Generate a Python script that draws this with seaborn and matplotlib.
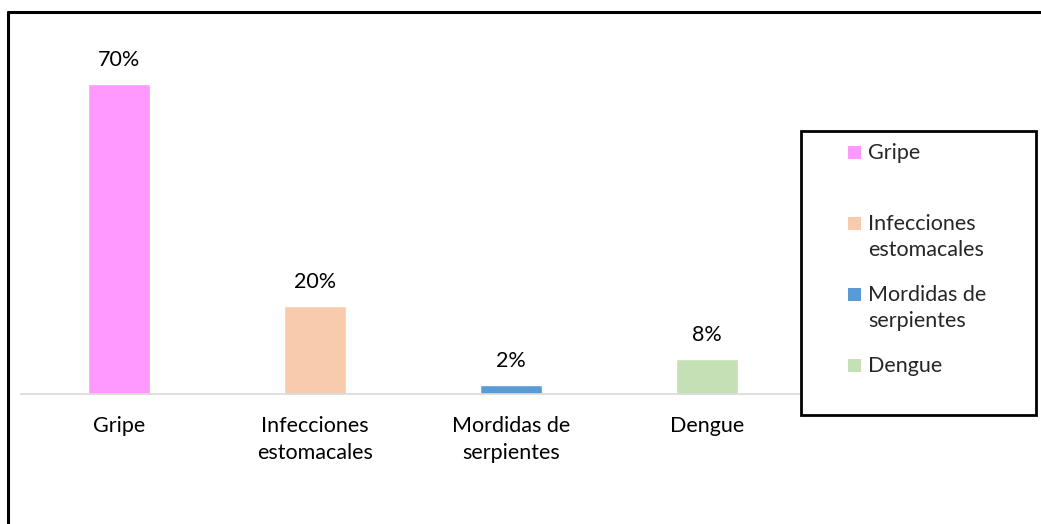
import matplotlib
matplotlib.use("Agg")
import matplotlib.pyplot as plt
from matplotlib.patches import Patch, Rectangle
from matplotlib.lines import Line2D
from matplotlib.legend_handler import HandlerPatch
import seaborn as sns

# --- data ---
categorias = ["Gripe", "Infecciones\nestomacales", "Mordidas de\nserpientes", "Dengue"]
porcentajes = [70, 20, 2, 8]
etiquetas = ["70%", "20%", "2%", "8%"]
colores = ["#FF99FF", "#F8CBAD", "#5B9BD5", "#C5E0B4"]
leyenda = ["Gripe\n ", "Infecciones\nestomacales", "Mordidas de\nserpientes", "Dengue\n "]

sns.set_style("white")
plt.rcParams["font.family"] = ["Lato", "DejaVu Sans"]
FS = 15.5
plt.rcParams["font.size"] = FS


class FirstLineHandler(HandlerPatch):
    """square drawn at the right end of the handle box, level with the first text line"""
    def __init__(self, up, size):
        super().__init__()
        self.up = up
        self.size = size

    def create_artists(self, legend, orig_handle, xdescent, ydescent,
                       width, height, fontsize, trans):
        s = self.size * fontsize
        y0 = -ydescent + (height - s) / 2 + self.up * fontsize
        p = Rectangle((-xdescent + width - s, y0), s, s,
                      facecolor=orig_handle.get_facecolor(), edgecolor="none",
                      transform=trans)
        return [p]


W, H = 1041, 524
fig = plt.figure(figsize=(W / 100, H / 100), dpi=100)

# axes placed so the baseline sits where the reference has it
ax = fig.add_axes([21 / W, (H - 394) / H, 784 / W, 354 / H])
sns.barplot(x=categorias, y=porcentajes, hue=categorias, palette=colores,
            width=0.316, legend=False, saturation=1, ax=ax)
ax.set_ylim(0, 80)
ax.set_xlim(-0.5, 3.5)

for i, (v, t) in enumerate(zip(porcentajes, etiquetas)):
    ax.annotate(t, (i, v), xytext=(0, 10), textcoords="offset points",
                ha="center", va="bottom", color="#000000")

for s in ["top", "right", "left"]:
    ax.spines[s].set_visible(False)
ax.spines["bottom"].set_color("#D9D9D9")
ax.spines["bottom"].set_linewidth(1.2)
ax.set_yticks([])
ax.tick_params(axis="x", length=0, pad=16, colors="#000000")
for lab in ax.get_xticklabels():
    lab.set_linespacing(1.45)
ax.set_xlabel("")
ax.set_ylabel("")

# legend
handles = [Patch(facecolor=c, edgecolor="none") for c in colores]
hmap = {h: FirstLineHandler(0.68, 0.6) for h in handles}
leg = fig.legend(handles, leyenda, loc="upper left",
                 bbox_to_anchor=(801 / W, 1 - 412 / H, 235 / W, 281 / H),
                 mode="expand", frameon=True, fancybox=False,
                 edgecolor="#000000", framealpha=1, handler_map=hmap,
                 handlelength=2.2, handleheight=0.7, handletextpad=0.33,
                 labelspacing=1.18, borderpad=0.58, borderaxespad=0)
leg.get_frame().set_linewidth(2)
for t in leg.get_texts():
    t.set_linespacing(1.35)

# outer chart border (left and top edges visible)
fig.add_artist(Line2D([8 / W, 8 / W], [0, 1 - 12 / H], color="#000000", lw=2.2))
fig.add_artist(Line2D([8 / W, 1], [1 - 12 / H, 1 - 12 / H], color="#000000", lw=2.2))

fig.savefig("out.png", dpi=100, facecolor="white")
